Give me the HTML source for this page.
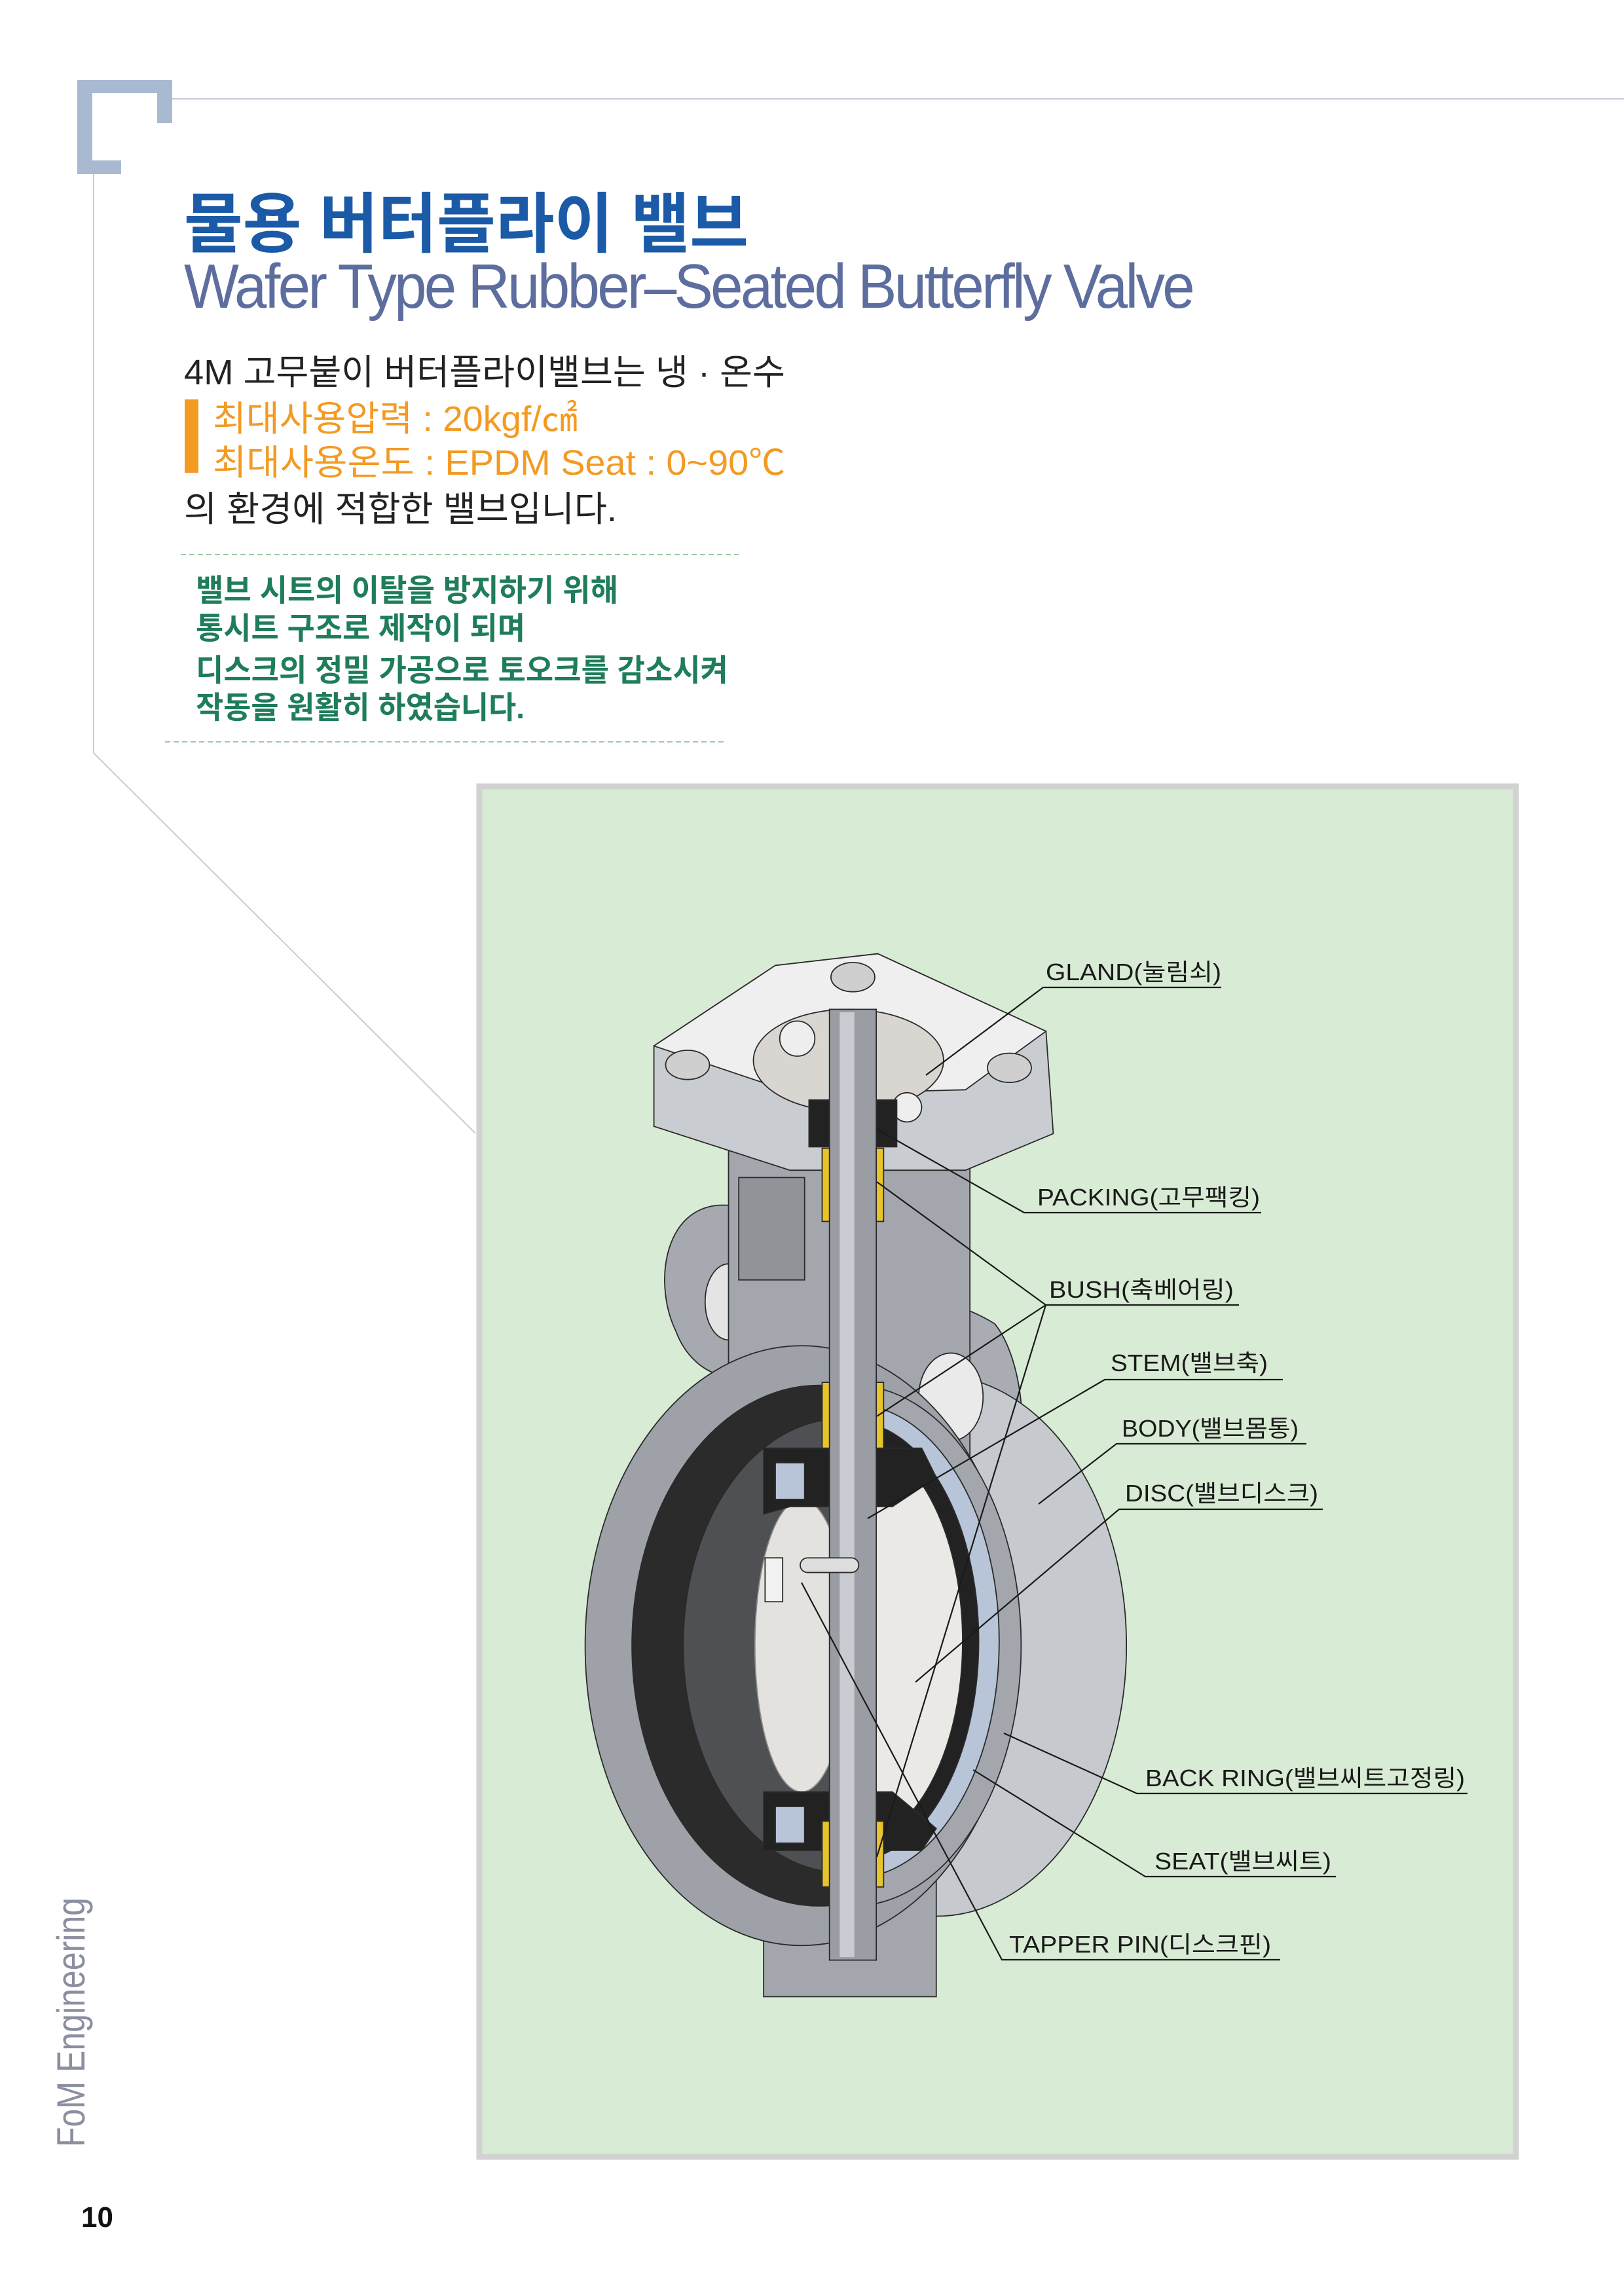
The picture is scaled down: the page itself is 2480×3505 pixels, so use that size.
<!DOCTYPE html>
<html><head><meta charset="utf-8"><style>
html,body{margin:0;padding:0;background:#fff;}
svg{display:block;}
text{font-family:"Liberation Sans","Noto Sans CJK KR",sans-serif;}
</style></head><body>
<svg width="2480" height="3505" viewBox="0 0 2480 3505" xmlns="http://www.w3.org/2000/svg">
<rect width="2480" height="3505" fill="#fff"/>
<path d="M118,122 H263 V188 H240 V142 H141 V245 H185 V266 H118 Z" fill="#a9b9d2"/>
<line x1="263" y1="151" x2="2480" y2="151" stroke="#c5cbd6" stroke-width="2"/>
<line x1="143" y1="266" x2="143" y2="1150" stroke="#c8ccd4" stroke-width="2"/>
<line x1="143" y1="1150" x2="726" y2="1731" stroke="#c8ccd4" stroke-width="2"/>
<text x="281" y="377" font-size="100" font-weight="bold" fill="#1b5aa6" textLength="862" lengthAdjust="spacingAndGlyphs">물용 버터플라이 밸브</text>
<text x="281" y="470" font-size="96" fill="#5d6e9e" textLength="1540" lengthAdjust="spacingAndGlyphs" letter-spacing="-4">Wafer Type Rubber–Seated Butterfly Valve</text>
<text x="281" y="587" font-size="54" fill="#222" textLength="918" lengthAdjust="spacingAndGlyphs">4M 고무붙이 버터플라이밸브는 냉 · 온수</text>
<rect x="282" y="610" width="21" height="112" fill="#f39a22"/>
<text x="325" y="658" font-size="54" fill="#f39a22" textLength="557" lengthAdjust="spacingAndGlyphs">최대사용압력 : 20kgf/㎠</text>
<text x="325" y="725" font-size="54" fill="#f39a22" textLength="874" lengthAdjust="spacingAndGlyphs">최대사용온도 : EPDM Seat : 0~90℃</text>
<text x="281" y="796" font-size="54" fill="#222" textLength="661" lengthAdjust="spacingAndGlyphs">의 환경에 적합한 밸브입니다.</text>
<line x1="276" y1="847" x2="1128" y2="847" stroke="#9cc9a4" stroke-width="2" stroke-dasharray="8,5"/>
<g font-size="47" font-weight="bold" fill="#1f7d5a">
<text x="299" y="918" textLength="645" lengthAdjust="spacingAndGlyphs">밸브 시트의 이탈을 방지하기 위해</text>
<text x="299" y="976" textLength="503" lengthAdjust="spacingAndGlyphs">통시트 구조로 제작이 되며</text>
<text x="299" y="1040" textLength="813" lengthAdjust="spacingAndGlyphs">디스크의 정밀 가공으로 토오크를 감소시켜</text>
<text x="299" y="1097" textLength="502" lengthAdjust="spacingAndGlyphs">작동을 원활히 하였습니다.</text>
</g>
<line x1="252" y1="1133" x2="1105" y2="1133" stroke="#9cc9a4" stroke-width="2" stroke-dasharray="8,5"/>
<rect x="732" y="1201" width="1583" height="2093" fill="#d8ebd4" stroke="#d2d2d2" stroke-width="9"/>
<text transform="translate(129,3279) rotate(-90)" font-size="60" fill="#8a8fa0" textLength="381" lengthAdjust="spacingAndGlyphs">FoM Engineering</text>
<text x="124" y="3401" font-size="44" font-weight="bold" fill="#111">10</text>

<g transform="scale(2.234)" stroke="#2a2a2a" stroke-width="0.8">
 <path d="M505,825 C455,815 445,875 462,910 C475,945 512,950 528,930 L528,840 Z" fill="#a6aab0"/>
 <ellipse cx="498" cy="890" rx="16" ry="26" fill="#e4e4e4"/>
 <path d="M625,850 C620,900 640,880 680,905 C700,930 705,990 690,1020 L640,1020 L625,990 Z" fill="#a9adb3"/>
 <ellipse cx="640" cy="1125" rx="130" ry="185" fill="#c6c9cd"/>
 <rect x="498" y="770" width="165" height="240" fill="#a3a7ad"/>
 <ellipse cx="650" cy="955" rx="22" ry="30" fill="#eaeaea"/>
 <rect x="505" y="805" width="45" height="70" fill="#909499"/>
 <rect x="522" y="1270" width="118" height="95" fill="#a3a7ad"/>
 <ellipse cx="548" cy="1125" rx="148" ry="205" fill="#9ea2a8"/>
 <ellipse cx="560" cy="1125" rx="128" ry="178" fill="#2b2b2b"/>
 <ellipse cx="575" cy="1125" rx="108" ry="155" fill="#4e5054"/>
 <clipPath id="rc"><rect x="583" y="900" width="200" height="450"/></clipPath>
 <g clip-path="url(#rc)">
  <ellipse cx="583" cy="1125" rx="115" ry="178" fill="#a3a7ad"/>
  <ellipse cx="583" cy="1122" rx="100" ry="162" fill="#b8c4d8"/>
  <ellipse cx="583" cy="1122" rx="86" ry="150" fill="#222"/>
  <ellipse cx="583" cy="1122" rx="75" ry="138" fill="#ebe9e6"/>
 </g>
 <ellipse cx="548" cy="1125" rx="32" ry="100" fill="#e4e2df" stroke="#888"/>
 <rect x="523" y="1065" width="12" height="30" fill="#f2f2f2"/>
 <path d="M522,990 H567 V1030 H540 L522,1035 Z" fill="#222"/>
 <rect x="530" y="1000" width="20" height="25" fill="#b8c4d8"/>
 <path d="M599,990 H630 L640,1010 L610,1030 H599 Z" fill="#222"/>
 <path d="M522,1225 H567 V1265 H522 Z" fill="#222"/>
 <rect x="530" y="1235" width="20" height="25" fill="#b8c4d8"/>
 <path d="M599,1225 H610 L640,1250 L630,1265 H599 Z" fill="#222"/>
 <path d="M447,715 L530,660 L600,652 L715,705 L720,775 L660,800 L540,800 L447,770 Z" fill="#c9ccd0"/>
 <path d="M447,715 L530,660 L600,652 L715,705 L660,745 L545,748 Z" fill="#efefef"/>
 <ellipse cx="583" cy="668" rx="15" ry="10" fill="#cfcfcf"/>
 <ellipse cx="470" cy="728" rx="15" ry="10" fill="#cfcfcf"/>
 <ellipse cx="690" cy="730" rx="15" ry="10" fill="#cfcfcf"/>
 <ellipse cx="580" cy="725" rx="65" ry="35" fill="#d9d5d1"/>
 <circle cx="545" cy="710" r="12" fill="#eee"/>
 <circle cx="620" cy="757" r="10" fill="#eee"/>
 <rect x="553" y="752" width="14" height="32" fill="#222"/>
 <rect x="599" y="752" width="14" height="32" fill="#222"/>
 <rect x="567" y="690" width="32" height="650" fill="#9a9da3"/>
 <rect x="574" y="692" width="10" height="646" fill="#c8cbcf" stroke="none"/>
 <g fill="#e8c42c">
  <rect x="562" y="785" width="5" height="50"/><rect x="599" y="785" width="5" height="50"/>
  <rect x="562" y="945" width="5" height="45"/><rect x="599" y="945" width="5" height="45"/>
  <rect x="562" y="1245" width="5" height="45"/><rect x="599" y="1245" width="5" height="45"/>
 </g>
 <rect x="547" y="1065" width="40" height="10" rx="5" fill="#ddd"/>
</g>

<g stroke="#1a1a1a" stroke-width="2.2" fill="none">
 <polyline points="1865,1508 1593,1508 1414,1642"/>
 <polyline points="1926,1852 1564,1852 1340,1725"/>
 <polyline points="1892,1993 1597,1993 1339,1805"/>
 <line x1="1597" y1="1993" x2="1339" y2="2163"/>
 <line x1="1597" y1="1993" x2="1339" y2="2836"/>
 <polyline points="1959,2107 1687,2107 1325,2319"/>
 <polyline points="1995,2205 1705,2205 1586,2297"/>
 <polyline points="2020,2305 1709,2305 1398,2569"/>
 <polyline points="2241,2739 1736,2739 1533,2647"/>
 <polyline points="2040,2866 1749,2866 1486,2703"/>
 <polyline points="1955,2993 1530,2993 1224,2417"/>
</g>
<g font-size="36" fill="#1a1a1a">
 <text x="1597" y="1497" textLength="268" lengthAdjust="spacingAndGlyphs">GLAND(눌림쇠)</text>
 <text x="1584" y="1841" textLength="340" lengthAdjust="spacingAndGlyphs">PACKING(고무팩킹)</text>
 <text x="1602" y="1982" textLength="282" lengthAdjust="spacingAndGlyphs">BUSH(축베어링)</text>
 <text x="1696" y="2094" textLength="240" lengthAdjust="spacingAndGlyphs">STEM(밸브축)</text>
 <text x="1713" y="2194" textLength="270" lengthAdjust="spacingAndGlyphs">BODY(밸브몸통)</text>
 <text x="1718" y="2293" textLength="295" lengthAdjust="spacingAndGlyphs">DISC(밸브디스크)</text>
 <text x="1749" y="2728" textLength="488" lengthAdjust="spacingAndGlyphs">BACK RING(밸브씨트고정링)</text>
 <text x="1763" y="2855" textLength="270" lengthAdjust="spacingAndGlyphs">SEAT(밸브씨트)</text>
 <text x="1541" y="2982" textLength="400" lengthAdjust="spacingAndGlyphs">TAPPER PIN(디스크핀)</text>
</g>
</svg>
</body></html>
